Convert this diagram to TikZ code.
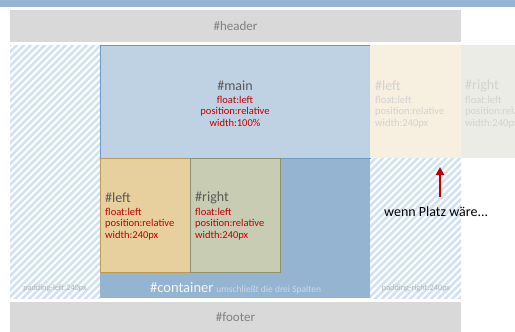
\documentclass[tikz,border=0pt]{standalone}
\usepackage{fontspec}
\setmainfont{Carlito}
\usetikzlibrary{positioning,arrows.meta}
\definecolor{barblue}{HTML}{95B3D3}
\definecolor{headgray}{HTML}{D9D9D9}
\definecolor{headtext}{HTML}{808080}
\definecolor{contblue}{HTML}{95B4D2}
\definecolor{mainblue}{HTML}{BFD2E4}
\definecolor{mainedge}{HTML}{6C9BCB}
\definecolor{leftfill}{HTML}{E8D09E}
\definecolor{leftedge}{HTML}{BC9A4F}
\definecolor{rightfill}{HTML}{C8CCB2}
\definecolor{rightedge}{HTML}{8C9270}
\definecolor{ghostleft}{HTML}{F7F0E1}
\definecolor{ghostright}{HTML}{ECECE6}
\definecolor{ghosttext}{HTML}{D2D2D2}
\definecolor{hatchblue}{HTML}{D3E2F0}
\definecolor{attrred}{HTML}{C00000}
\definecolor{padtext}{HTML}{B4B4B4}
\definecolor{conttext}{HTML}{F4F4F4}
\definecolor{contsmall}{HTML}{C9D9E9}
\definecolor{titlegray}{HTML}{595959}

\begin{document}
\begin{tikzpicture}[x=1pt,y=-1pt,
  box/.style={anchor=north west,inner sep=0pt,outer sep=0pt},
  title/.style={font=\fontsize{14}{16}\selectfont,text=titlegray,inner sep=0pt},
  attr/.style={font=\fontsize{10.5}{11.5}\selectfont,text=attrred,align=left,inner sep=0pt},
  ghost/.style={text=ghosttext},
  padlabel/.style={font=\fontsize{8.3}{9}\selectfont,text=padtext,inner sep=0pt},
  hatch/.style={draw=hatchblue,line width=2.6pt}]
\useasboundingbox (0,0) rectangle (515,332);

\node[box,fill=barblue,minimum width=515,minimum height=7] (bar) at (0,0) {};
\node[box,fill=headgray,text=headtext,font=\fontsize{13}{15}\selectfont,
  minimum width=451,minimum height=32] (header) at (10,10) {\#header};
\node[box,fill=headgray,text=headtext,font=\fontsize{13}{15}\selectfont,
  minimum width=451,minimum height=30] (footer) at (10,302) {\#footer};

% padding areas
\foreach \x/\y/\w/\h in {10/45/90/253, 370/158/91/140}{
  \begin{scope}
    \clip (\x,\y) rectangle ++(\w,\h);
    \foreach \i in {-300,-293,...,120}
      \draw[hatch] (\x+\i,\y+\h+5) -- ++(300,-300);
  \end{scope}
}

\node[box,fill=contblue,minimum width=270,minimum height=253] (container) at (100,45) {};
\node[box,fill=mainblue,draw=mainedge,line width=0.8pt,
  minimum width=270,minimum height=113] (main) at (100,45) {};
\node[box,fill=leftfill,draw=leftedge,line width=0.8pt,
  minimum width=90,minimum height=114] (left) at (100,158) {};
\node[box,fill=rightfill,draw=rightedge,line width=0.8pt,
  minimum width=90,minimum height=114] (right) at (190,158) {};
\node[box,fill=ghostleft,minimum width=91,minimum height=113] (leftghost) at (370,45) {};
\node[box,fill=ghostright,minimum width=54,minimum height=113] (rightghost) at (461,45) {};

\node[title] (maintitle) at (235,86) {\#main};
\node[attr,align=center,anchor=north] (mainattr) at (235,96)
  {float:left\\position:relative\\width:100\%};

\node[title,anchor=west] (lefttitle) at (105,198) {\#left};
\node[attr,anchor=north west] (leftattr) at (105,208) {float:left\\position:relative\\width:240px};
\node[title,anchor=west] (righttitle) at (195,198) {\#right};
\node[attr,anchor=north west] (rightattr) at (195,208) {float:left\\position:relative\\width:240px};

\node[title,ghost,anchor=west] (lghosttitle) at (375,86) {\#left};
\node[attr,ghost,anchor=north west] (lghostattr) at (375,96) {float:left\\position:relative\\width:240px};
\node[title,ghost,anchor=west] (rghosttitle) at (465,86) {\#right};
\node[attr,ghost,anchor=north west] (rghostattr) at (465,96) {float:left\\position:relative\\width:240px};

\node[anchor=west,inner sep=0pt,text=conttext,font=\fontsize{14.5}{16}\selectfont] (contlabel) at (150,288)
  {\#container\hspace{3pt}{\fontsize{9.5}{10}\selectfont\color{contsmall}umschließt die drei Spalten}};

\node[padlabel] (padleft) at (55,288) {padding-left:240px};
\node[padlabel] (padright) at (416,288) {padding-right:240px};

\node[anchor=west,inner sep=0pt,font=\fontsize{14}{16}\selectfont] (platz) at (384,212) {wenn Platz wäre...};
\coordinate (arrtail) at (440,197);
\coordinate (arrtip) at (440,167);
\draw[attrred,line width=2pt,-{Triangle[length=8pt,width=8pt]}] (arrtail) -- (arrtip);
\end{tikzpicture}
\end{document}
